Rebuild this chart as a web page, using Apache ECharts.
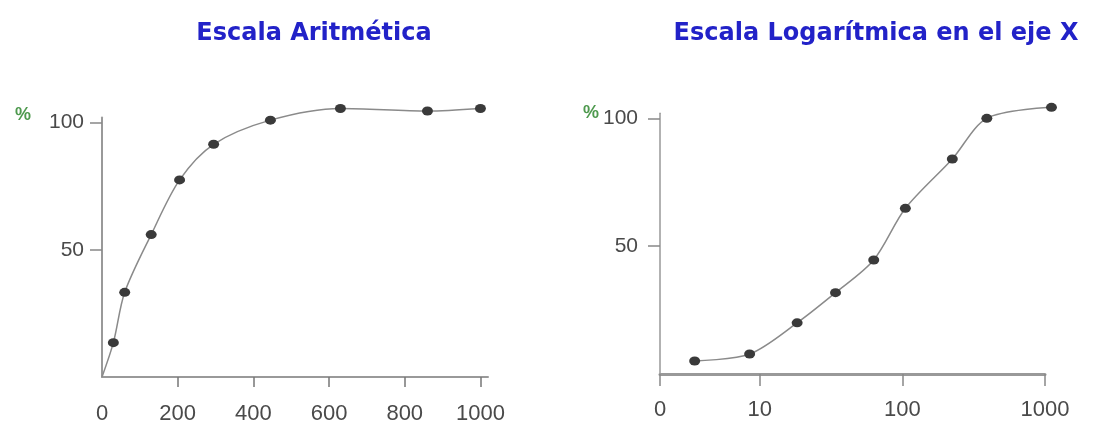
<!DOCTYPE html>
<html>
<head>
<meta charset="utf-8">
<script src="https://cdn.jsdelivr.net/npm/echarts@6/dist/echarts.min.js"></script>
<style>
html,body{margin:0;padding:0;background:#fff;}
#c{width:1113px;height:425px;}
</style>
</head>
<body>
<div id="c"></div>
<script>
// Titles
const titleLeft = 'Escala Aritmética';
const titleRight = 'Escala Logarítmica en el eje X';
const yUnit = '%';

// Left chart (arithmetic x axis)
const arithX = [0, 30, 60, 130, 205, 295, 445, 630, 860, 1000];
const arithY = [0, 13.5, 33.3, 56, 77.5, 91.5, 101, 105.6, 104.6, 105.6];
const arithTicks = [0, 200, 400, 600, 800, 1000];

// Right chart (logarithmic x axis)
const logX = [3.5, 8.5, 18.3, 34, 63, 105, 224, 391, 1110];
const logY = [5.1, 7.8, 20, 31.8, 44.6, 64.8, 84.1, 100, 104.3];
const yTicks = [50, 100];

const chart = echarts.init(document.getElementById('c'));
const labelFont = {color:'#4a4a4a', fontSize:21, fontFamily:'Liberation Sans'};
const xLabelFont = {color:'#4a4a4a', fontSize:22, fontFamily:'Liberation Sans'};
const axisGray = '#999';
const titleStyle = {color:'#2222c8', fontSize:24, fontWeight:'bold', fontFamily:'DejaVu Sans'};

const arithData = arithX.map((x,i)=> i===0 ? {value:[x, arithY[i]], symbol:'none'} : [x, arithY[i]]);
const logData = logX.map((x,i)=>[x, logY[i]]);

chart.setOption({
  animation:false,
  backgroundColor:'#fff',
  title:[
    {text:titleLeft, left:309, top:17, textAlign:'center', textStyle:titleStyle},
    {text:titleRight, left:871, top:17, textAlign:'center', textStyle:titleStyle},
    {text:yUnit, left:10, top:101, textStyle:{color:'#4f9a4f', fontSize:18, fontWeight:'bold', fontFamily:'Liberation Sans'}},
    {text:yUnit, left:578, top:99, textStyle:{color:'#4f9a4f', fontSize:18, fontWeight:'bold', fontFamily:'Liberation Sans'}}
  ],
  grid:[
    {left:102, width:386, top:117.6, height:260.1},
    {left:660, width:385, top:113.2, height:260.8}
  ],
  xAxis:[
    {gridIndex:0, type:'value', min:0, max:1020,
     axisLine:{show:true, lineStyle:{color:axisGray, width:2}},
     axisTick:{show:true, length:10, customValues:arithTicks.slice(1), lineStyle:{color:'#777', width:1.5}},
     axisLabel:{...xLabelFont, customValues:arithTicks, margin:26, formatter:(v)=>String(v)},
     splitLine:{show:false}},
    {gridIndex:1, type:'log', logBase:10, min:2, max:1000,
     axisLine:{show:true, lineStyle:{color:axisGray, width:3}},
     axisTick:{show:true, length:12, lineStyle:{color:'#888', width:1.5}},
     axisLabel:{...xLabelFont, margin:25, formatter:(v)=> v<5 ? '0' : String(Math.round(v))},
     splitLine:{show:false}}
  ],
  yAxis:[
    {gridIndex:0, type:'value', min:0, max:102,
     axisLine:{show:true, lineStyle:{color:axisGray, width:2}},
     axisTick:{show:true, length:12, customValues:yTicks, lineStyle:{color:'#888', width:1.5}},
     axisLabel:{...labelFont, customValues:yTicks, margin:18},
     splitLine:{show:false}},
    {gridIndex:1, type:'value', min:0, max:102,
     axisLine:{show:true, lineStyle:{color:axisGray, width:1.5}},
     axisTick:{show:true, length:12, customValues:yTicks, lineStyle:{color:'#888', width:1.5}},
     axisLabel:{...labelFont, customValues:yTicks, margin:22},
     splitLine:{show:false}}
  ],
  series:[
    {type:'line', xAxisIndex:0, yAxisIndex:0, data:arithData, smooth:0.3,
     symbol:'circle', symbolSize:[11,9], clip:false,
     itemStyle:{color:'#3a3a3a'}, lineStyle:{color:'#8a8a8a', width:1.5}},
    {type:'line', xAxisIndex:1, yAxisIndex:1, data:logData, smooth:0.3,
     symbol:'circle', symbolSize:[11,9], clip:false,
     itemStyle:{color:'#3a3a3a'}, lineStyle:{color:'#8a8a8a', width:1.5}}
  ]
});
</script>
</body>
</html>
